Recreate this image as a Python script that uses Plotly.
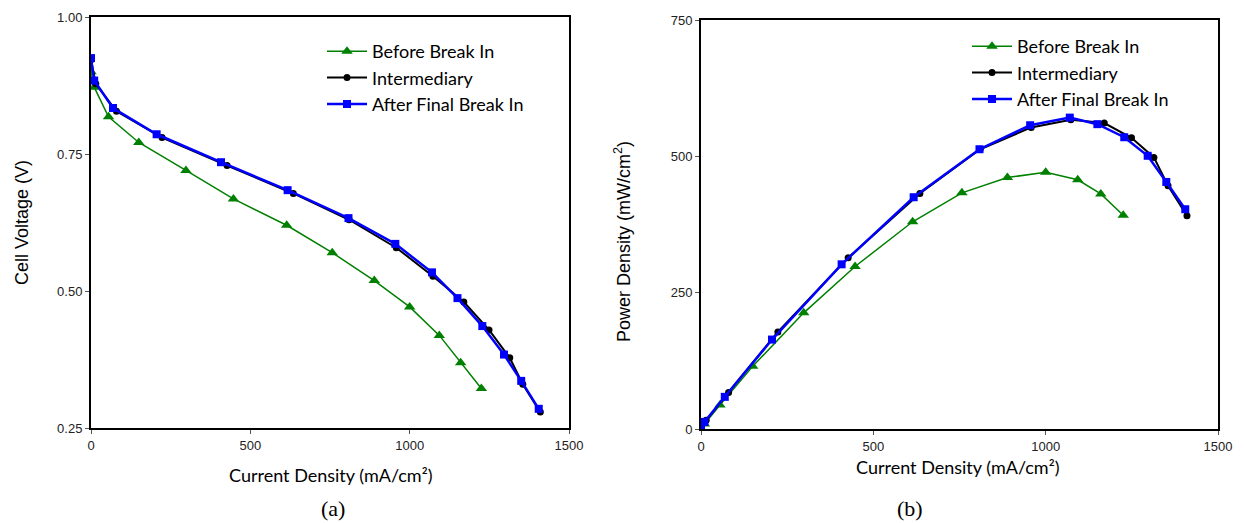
import plotly.graph_objects as go

# ---- Data ----
series_names = ["Before Break In", "Intermediary", "After Final Break In"]

cur_before = [0, 10, 55, 150, 298, 447, 614, 757, 889, 1000, 1093, 1160, 1225]
volt_before = [0.900, 0.872, 0.818, 0.771, 0.720, 0.668, 0.620, 0.570, 0.519, 0.471, 0.419, 0.369, 0.322]
pow_before = [0, 9, 44, 115, 213, 298, 380, 433, 461, 471, 457, 431, 392]

cur_inter = [0, 15, 80, 223, 427, 635, 810, 958, 1073, 1170, 1249, 1314, 1355, 1410]
volt_inter = [0.922, 0.878, 0.828, 0.780, 0.729, 0.678, 0.630, 0.579, 0.527, 0.480, 0.429, 0.378, 0.330, 0.279]
pow_inter = [0, 16, 67, 178, 314, 432, 513, 553, 567, 561, 534, 498, 446, 391]

cur_after = [0, 10, 69, 206, 408, 617, 808, 955, 1070, 1150, 1228, 1296, 1350, 1405]
volt_after = [0.925, 0.884, 0.834, 0.786, 0.735, 0.684, 0.633, 0.586, 0.534, 0.487, 0.436, 0.384, 0.336, 0.285]
pow_after = [0, 13, 59, 164, 302, 425, 513, 557, 571, 559, 535, 501, 453, 403]

x_ticks = [0, 500, 1000, 1500]
v_ticks = [0.25, 0.50, 0.75, 1.00]
p_ticks = [0, 250, 500, 750]

# ---- Styles ----
styles = [
    dict(color="#008000", width=1.5, symbol="triangle-up", size=10),
    dict(color="#000000", width=2, symbol="circle", size=7),
    dict(color="#0000FF", width=2.5, symbol="square", size=8),
]

W, H = 1244, 523
fig = go.Figure()

left_data = [(cur_before, volt_before), (cur_inter, volt_inter), (cur_after, volt_after)]
right_data = [(cur_before, pow_before), (cur_inter, pow_inter), (cur_after, pow_after)]

for (xs, ys), name, st in zip(left_data, series_names, styles):
    fig.add_trace(go.Scatter(
        x=xs, y=ys, name=name, mode="lines+markers",
        line=dict(color=st["color"], width=st["width"]),
        marker=dict(symbol=st["symbol"], size=st["size"], color=st["color"]),
        xaxis="x", yaxis="y", legend="legend"))

for (xs, ys), name, st in zip(right_data, series_names, styles):
    fig.add_trace(go.Scatter(
        x=xs, y=ys, name=name, mode="lines+markers",
        line=dict(color=st["color"], width=st["width"]),
        marker=dict(symbol=st["symbol"], size=st["size"], color=st["color"]),
        xaxis="x2", yaxis="y2", legend="legend2"))

tickfont = dict(family="Liberation Sans, Arial", size=13, color="#222222")
axis_common = dict(
    showline=True, linecolor="black", linewidth=2, mirror=True,
    showgrid=False, zeroline=False, ticks="outside", ticklen=4,
    tickcolor="#555555", tickwidth=1, tickfont=tickfont, automargin=False,
)

legend_font = dict(family="Lato, Open Sans", size=18, color="black")

fig.update_layout(
    width=W, height=H,
    margin=dict(l=0, r=0, t=0, b=0, autoexpand=False),
    paper_bgcolor="white", plot_bgcolor="white",
    xaxis=dict(domain=[91 / W, 569 / W], range=[0, 1500], tickvals=x_ticks,
               anchor="y", **axis_common),
    yaxis=dict(domain=[1 - 428 / H, 1 - 17 / H], range=[0.25, 1.00], tickvals=v_ticks,
               tickformat=".2f", anchor="x", **axis_common),
    xaxis2=dict(domain=[701 / W, 1218 / W], range=[0, 1500], tickvals=x_ticks,
                anchor="y2", **axis_common),
    yaxis2=dict(domain=[1 - 429 / H, 1 - 20 / H], range=[0, 750], tickvals=p_ticks,
                anchor="x2", **axis_common),
    legend=dict(x=322 / W, y=1 - 33 / H, xanchor="left", yanchor="top",
                bgcolor="rgba(0,0,0,0)", itemwidth=40, font=legend_font),
    legend2=dict(x=967 / W, y=1 - 28 / H, xanchor="left", yanchor="top",
                 bgcolor="rgba(0,0,0,0)", itemwidth=40, font=legend_font),
    showlegend=True,
)

title_font = dict(family="Lato, Open Sans", size=18, color="black")
ytitle_font = dict(family="Liberation Sans, Arial", size=18, color="black")
label_font = dict(family="Liberation Serif, Times New Roman", size=22, color="black")

annotations = [
    dict(text="Current Density (mA/cm²)", x=330 / W, y=1 - 475 / H, font=title_font),
    dict(text="Current Density (mA/cm²)", x=957 / W, y=1 - 467 / H, font=title_font),
    dict(text="Cell Voltage (V)", x=22 / W, y=1 - 223 / H, font=ytitle_font, textangle=-90),
    dict(text="Power Density (mW/cm<sup>2</sup>)", x=622 / W, y=1 - 242 / H, font=ytitle_font, textangle=-90),
    dict(text="(a)", x=333 / W, y=1 - 508 / H, font=label_font),
    dict(text="(b)", x=910 / W, y=1 - 508 / H, font=label_font),
]
for a in annotations:
    fig.add_annotation(xref="paper", yref="paper", showarrow=False,
                       xanchor="center", yanchor="middle", **a)

fig.write_html("out.html")
